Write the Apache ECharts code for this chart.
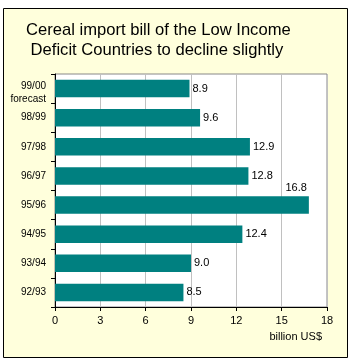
<!DOCTYPE html>
<html>
<head>
<meta charset="utf-8">
<script src="https://cdn.jsdelivr.net/npm/echarts@6/dist/echarts.min.js"></script>
<style>
  html, body { margin: 0; padding: 0; background: #fff; }
  #chart { width: 352px; height: 361px; }
</style>
</head>
<body>
<div id="chart"></div>
<script>
// crop years, bottom to top
const seasons = ['92/93', '93/94', '94/95', '95/96', '96/97', '97/98', '98/99', '99/00\nforecast']
// import bill, billion US$
const importBill = [8.5, 9.0, 12.4, 16.8, 12.8, 12.9, 9.6, 8.9]
const xTicks = [0, 3, 6, 9, 12, 15, 18]

const font = 'Liberation Sans, Arial, sans-serif'

const chart = echarts.init(document.getElementById('chart'), null, { renderer: 'canvas' })

const barData = importBill.map((v) => {
  // the tallest bar has its label sitting above the bar end
  if (v === Math.max(...importBill)) {
    return {
      value: v,
      label: { position: ['100%', -3], align: 'right', verticalAlign: 'bottom', offset: [-2, 0] },
    }
  }
  return v
})

chart.setOption({
  animation: false,
  graphic: [
    {
      type: 'rect',
      shape: { x: 3.5, y: 8.5, width: 344, height: 349 },
      style: { fill: '#FFFFDC', stroke: '#000', lineWidth: 1 },
      z: -10,
    },
    {
      type: 'text',
      left: 26,
      top: 20,
      style: {
        text: 'Cereal import bill of the Low Income\n Deficit Countries to decline slightly',
        font: '16.6px ' + font,
        fill: '#000',
        lineHeight: 20,
      },
    },
    {
      type: 'text',
      right: 30,
      top: 331,
      style: { text: 'billion US$', font: '11px ' + font, fill: '#000' },
    },
  ],
  grid: {
    left: 55,
    right: 25,
    top: 74,
    bottom: 54,
    show: true,
    backgroundColor: '#fff',
    borderColor: '#888',
    borderWidth: 1,
  },
  xAxis: {
    type: 'value',
    min: 0,
    max: 18,
    interval: 3,
    axisLine: { show: true, lineStyle: { color: '#000', width: 1 } },
    axisTick: { show: true, length: 4, lineStyle: { color: '#000' } },
    splitLine: { show: true, lineStyle: { color: '#c0c0c0' } },
    axisLabel: {
      color: '#000',
      fontFamily: font,
      fontSize: 11,
      margin: 8,
      formatter: (v) => (xTicks.includes(v) ? String(v) : ''),
    },
  },
  yAxis: {
    type: 'category',
    data: seasons,
    axisLine: { show: true, lineStyle: { color: '#000', width: 1 } },
    axisTick: { show: true, length: 4, lineStyle: { color: '#000' } },
    axisLabel: {
      color: '#000',
      fontFamily: font,
      fontSize: 10,
      margin: 9,
      lineHeight: 13,
      align: 'right',
      // the two-line forecast label sits a little below its band centre
      formatter: (v) => (v.includes('\n') ? '{s| }\n' + v : v),
      rich: { s: { fontSize: 6, lineHeight: 9 } },
    },
  },
  series: [{
    type: 'bar',
    data: barData,
    barWidth: '60%',
    itemStyle: { color: '#008080' },
    label: {
      show: true,
      position: 'right',
      distance: 3,
      color: '#000',
      fontFamily: font,
      fontSize: 11,
      formatter: (p) => Number(p.value).toFixed(1),
    },
  }],
})
</script>
</body>
</html>
